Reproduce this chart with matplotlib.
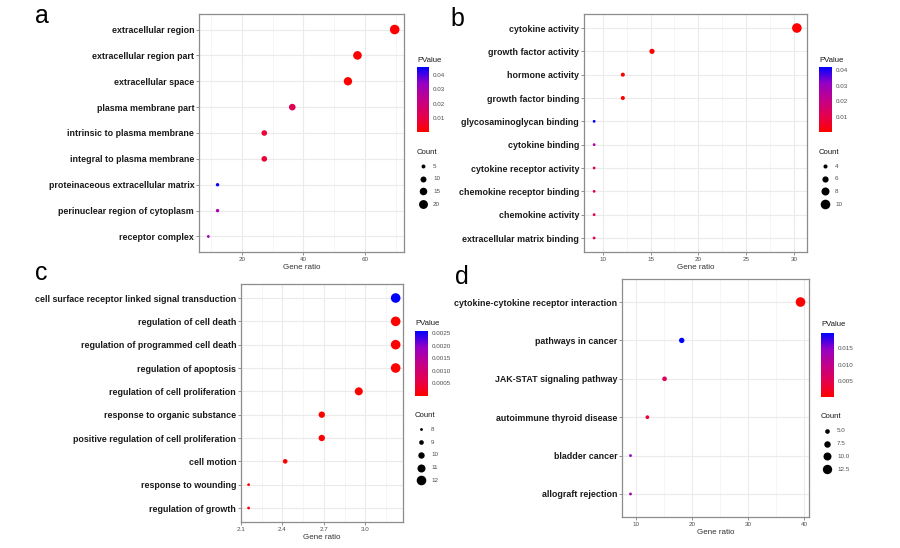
import numpy as np
import matplotlib.pyplot as plt
from matplotlib.colors import LinearSegmentedColormap, Normalize
import matplotlib as mpl

plt.rcParams['font.family'] = ['Liberation Sans', 'DejaVu Sans']

# ---- panel a: cellular component ----
terms_a = ['extracellular region', 'extracellular region part', 'extracellular space',
           'plasma membrane part', 'intrinsic to plasma membrane', 'integral to plasma membrane',
           'proteinaceous extracellular matrix', 'perinuclear region of cytoplasm', 'receptor complex']
ratio_a = [69.7, 57.6, 54.5, 36.4, 27.3, 27.3, 12.1, 12.1, 9.1]
count_a = [23, 19, 18, 12, 9, 9, 4, 4, 3]
pval_a = [1e-6, 2e-5, 5e-5, 0.012, 0.008, 0.008, 0.0457, 0.030, 0.032]
pticks_a = [0.01, 0.02, 0.03, 0.04]
cticks_a = [5, 10, 15, 20]

# ---- panel b: molecular function ----
terms_b = ['cytokine activity', 'growth factor activity', 'hormone activity', 'growth factor binding',
           'glycosaminoglycan binding', 'cytokine binding', 'cytokine receptor activity',
           'chemokine receptor binding', 'chemokine activity', 'extracellular matrix binding']
ratio_b = [30.3, 15.15, 12.1, 12.1, 9.1, 9.1, 9.1, 9.1, 9.1, 9.1]
count_b = [10, 5, 4, 4, 3, 3, 3, 3, 3, 3]
pval_b = [1e-6, 5e-5, 2e-4, 3e-4, 0.042, 0.025, 0.012, 0.010, 0.010, 0.009]
pticks_b = [0.01, 0.02, 0.03, 0.04]
cticks_b = [4, 6, 8, 10]

# ---- panel c: biological process ----
terms_c = ['cell surface receptor linked signal transduction', 'regulation of cell death',
           'regulation of programmed cell death', 'regulation of apoptosis',
           'regulation of cell proliferation', 'response to organic substance',
           'positive regulation of cell proliferation', 'cell motion', 'response to wounding',
           'regulation of growth']
ratio_c = [3.22, 3.22, 3.22, 3.22, 2.953, 2.685, 2.685, 2.42, 2.155, 2.155]
count_c = [12, 12, 12, 12, 11, 10, 10, 9, 8, 8]
pval_c = [0.00258, 1e-7, 1e-7, 1e-7, 2e-6, 1e-5, 2e-5, 1e-5, 3e-5, 3e-5]
pticks_c = [0.0005, 0.0010, 0.0015, 0.0020, 0.0025]
cticks_c = [8, 9, 10, 11, 12]

# ---- panel d: KEGG pathways ----
terms_d = ['cytokine-cytokine receptor interaction', 'pathways in cancer', 'JAK-STAT signaling pathway',
           'autoimmune thyroid disease', 'bladder cancer', 'allograft rejection']
ratio_d = [39.3, 18.2, 15.15, 12.1, 9.1, 9.1]
count_d = [13, 6, 5, 4, 3, 3]
pval_d = [1e-6, 0.0197, 0.006, 0.004, 0.015, 0.013]
pticks_d = [0.005, 0.010, 0.015]
cticks_d = [5.0, 7.5, 10.0, 12.5]

W, H = 900, 548
cmap = LinearSegmentedColormap.from_list(
    'pv', [(0, '#FF0000'), (0.25, '#E3004F'), (0.5, '#C2008A'), (0.75, '#9600C4'), (1, '#0000FF')])


def box(x0, y0, x1, y1):
    return [x0 / W, 1 - y1 / H, (x1 - x0) / W, (y1 - y0) / H]


def dot_s(c, cmin, cmax):
    t = (np.sqrt(c) - np.sqrt(cmin)) / (np.sqrt(cmax) - np.sqrt(cmin))
    d = 2.8 + 6.8 * t
    return (d * 0.72) ** 2


fig = plt.figure(figsize=(9, 5.48), dpi=100)
ov = fig.add_axes([0, 0, 1, 1], zorder=5)
ov.set_xlim(0, W)
ov.set_ylim(H, 0)
ov.axis('off')


def panel(letter, lpos, axbox, terms, ratio, count, pval, xmajor, xfmt, cbox, pticks, pfmt,
          ctitle_y, cticks, cfmt, crow_y0, crow_dy, ptitle_y):
    ax = fig.add_axes(box(*axbox))
    n = len(terms)
    ypos = np.arange(n, 0, -1)
    cmin, cmax = min(count), max(count)
    norm = Normalize(vmin=min(pval), vmax=max(pval))
    ax.scatter(ratio, ypos, s=[dot_s(c, cmin, cmax) for c in count],
               c=pval, cmap=cmap, norm=norm, zorder=3, linewidths=0)
    lo, hi = min(ratio), max(ratio)
    pad = 0.05 * (hi - lo)
    ax.set_xlim(lo - pad, hi + pad)
    ax.set_ylim(0.4, n + 0.6)
    ax.set_yticks(ypos)
    ax.set_yticklabels(terms, fontsize=6.4, fontweight='bold', color='#1a1a1a')
    ax.set_xticks(xmajor)
    ax.set_xticklabels([xfmt.format(v) for v in xmajor], fontsize=4.5, color='#4d4d4d')
    step = xmajor[1] - xmajor[0]
    minors = np.arange(xmajor[0] - step / 2, hi + pad, step)
    ax.set_xticks([m for m in minors if lo - pad < m < hi + pad], minor=True)
    ax.tick_params(axis='both', which='major', length=2, width=0.6, color='#7f7f7f', pad=1.5)
    ax.tick_params(axis='x', which='minor', length=0)
    ax.grid(True, which='major', color='#ebebeb', linewidth=0.8, zorder=0)
    ax.grid(True, which='minor', axis='x', color='#f2f2f2', linewidth=0.5, zorder=0)
    ax.set_axisbelow(True)
    for sp in ax.spines.values():
        sp.set_color('#8c8c8c')
        sp.set_linewidth(0.9)
    ax.set_xlabel('Gene ratio', fontsize=5.8, color='#333333', labelpad=1.5)

    fig.text(lpos[0] / W, 1 - lpos[1] / H, letter, fontsize=18, va='baseline', ha='left')

    # colour bar
    cax = fig.add_axes(box(*cbox))
    cb = mpl.colorbar.ColorbarBase(cax, cmap=cmap, norm=norm, orientation='vertical')
    cb.outline.set_visible(False)
    cb.set_ticks(pticks)
    cb.set_ticklabels([pfmt.format(v) for v in pticks])
    cax.tick_params(labelsize=4.5, labelcolor='#4d4d4d', length=0, pad=2.5)
    ov.text(cbox[0], ptitle_y, 'PValue', fontsize=5.6, color='#1a1a1a', va='center', ha='left')

    # size legend
    ov.text(cbox[0], ctitle_y, 'Count', fontsize=5.6, color='#1a1a1a', va='center', ha='left')
    for i, cv in enumerate(cticks):
        yy = crow_y0 + i * crow_dy
        ov.scatter([cbox[0] + 6], [yy], s=dot_s(cv, cmin, cmax), color='black', linewidths=0)
        ov.text(cbox[0] + 16, yy, cfmt.format(cv), fontsize=4.5, color='#4d4d4d',
                va='center', ha='left')


panel('a', (35, 23), (199, 14, 404, 252), terms_a, ratio_a, count_a, pval_a,
      [20, 40, 60], '{:g}', (417, 67, 429, 132), pticks_a, '{:.2f}',
      152, cticks_a, '{:g}', 166, 12.7, 60)
panel('b', (450, 26.5), (584, 14, 807, 252), terms_b, ratio_b, count_b, pval_b,
      [10, 15, 20, 25, 30], '{:g}', (819, 67, 832, 132), pticks_b, '{:.2f}',
      152, cticks_b, '{:g}', 166, 12.7, 60)
panel('c', (35, 280), (241, 284, 403, 522), terms_c, ratio_c, count_c, pval_c,
      [2.1, 2.4, 2.7, 3.0], '{:.1f}', (415, 331, 428, 396), pticks_c, '{:.4f}',
      415.7, cticks_c, '{:g}', 429.3, 12.75, 323.7)
panel('d', (455, 284), (622, 279, 809, 517), terms_d, ratio_d, count_d, pval_d,
      [10, 20, 30, 40], '{:g}', (821, 333, 834, 397), pticks_d, '{:.3f}',
      417, cticks_d, '{:.1f}', 430.7, 12.8, 325)

fig.savefig('out.png', dpi=100)
